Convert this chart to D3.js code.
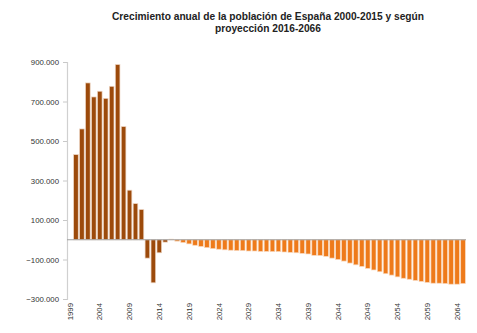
<!DOCTYPE html>
<html>
<head>
<meta charset="utf-8">
<script src="https://cdn.jsdelivr.net/npm/d3@7"></script>
<style>
  body { margin: 0; background: #fff; }
  text { font-family: "Liberation Sans", Arial, sans-serif; }
</style>
</head>
<body>
<div id="chart"></div>
<script>
// years on the category axis (1999 slot is empty)
var years = d3.range(1999, 2066)
// observed growth 2000-2015
var obsYears = d3.range(2000, 2016)
var obsValues = [431000, 561000, 794000, 723000, 752000, 716000, 777000, 887000,
    573000, 251000, 183000, 153000, -93000, -218000, -66000, -12000]
// projection 2016-2065
var projYears = d3.range(2016, 2066)
var projValues = [3000, -7000, -14000, -21000, -28000, -34000, -40000, -45000, -48000, -51000,
    -53000, -55000, -55000, -57000, -57000, -59000, -59000, -60000, -60000, -62000,
    -64000, -66000, -69000, -72000, -79000, -80000, -84000, -93000, -100000, -108000,
    -118000, -127000, -135000, -145000, -153000, -162000, -172000, -179000, -188000, -195000,
    -200000, -206000, -211000, -216000, -220000, -220000, -222000, -225000, -225000, -222000]
var yTicks = [-300000, -100000, 100000, 300000, 500000, 700000, 900000]
var xTicks = d3.range(1999, 2066, 5)

var W = 477, H = 333
var margin = {top: 62, left: 67, right: 11, bottom: 34}
var width = W - margin.left - margin.right
var height = H - margin.top - margin.bottom

var svg = d3.select("#chart").append("svg")
    .attr("width", W)
    .attr("height", H)

// title
var title = svg.append("text")
    .attr("text-anchor", "middle")
    .attr("font-size", "10.2px")
    .attr("font-weight", "bold")
    .attr("fill", "#222")
title.append("tspan").attr("x", 268).attr("y", 20)
    .text("Crecimiento anual de la población de España 2000-2015 y según")
title.append("tspan").attr("x", 268).attr("y", 32)
    .text("proyección 2016-2066")

var g = svg.append("g")
    .attr("transform", `translate(${margin.left}, ${margin.top})`)

var x = d3.scaleBand()
    .domain(years)
    .range([0, width])
    .paddingInner(0.22)
    .paddingOuter(0.11)

var y = d3.scaleLinear()
    .domain([-300000, 900000])
    .range([height, 0])

var fmt = function(d){ return d3.format(",")(d).replace(/,/g, ".") }

// Y axis
var yAxis = g.append("g")
    .call(d3.axisLeft(y).tickValues(yTicks).tickSize(4).tickPadding(4).tickFormat(fmt))
yAxis.select(".domain").attr("stroke", "#d0d0d0").attr("stroke-width", 1.2)
yAxis.selectAll(".tick line").attr("stroke", "#c8c8c8")
yAxis.selectAll(".tick text")
    .attr("font-family", "Liberation Sans, Arial, sans-serif")
    .attr("font-size", "7.8px")
    .attr("fill", "#333")

// bars
function drawBars(ys, vs, color, edge){
    g.selectAll(null)
        .data(ys.map(function(d, i){ return {year: d, value: vs[i]} }))
        .enter()
        .append("rect")
        .attr("x", d => x(d.year))
        .attr("y", d => y(Math.max(0, d.value)))
        .attr("width", x.bandwidth())
        .attr("height", d => Math.abs(y(d.value) - y(0)))
        .attr("fill", color)
        .attr("stroke", edge)
        .attr("stroke-width", 0.7)
}
drawBars(obsYears, obsValues, "#9c4a0b", "#eed6c4")
drawBars(projYears, projValues, "#ee7a1a", "#f9d8bc")

// zero line
g.append("line")
    .attr("x1", 0).attr("x2", width)
    .attr("y1", y(0)).attr("y2", y(0))
    .attr("stroke", "#a0a0a0")
    .attr("stroke-width", 1)

// x labels (rotated)
g.selectAll(".xlab")
    .data(xTicks)
    .enter()
    .append("text")
    .attr("class", "xlab")
    .attr("transform", d => `translate(${x(d) + x.bandwidth() / 2}, ${height + 4}) rotate(-90)`)
    .attr("text-anchor", "end")
    .attr("dy", "0.35em")
    .attr("font-size", "7.8px")
    .attr("fill", "#333")
    .text(d => d)
</script>
</body>
</html>
